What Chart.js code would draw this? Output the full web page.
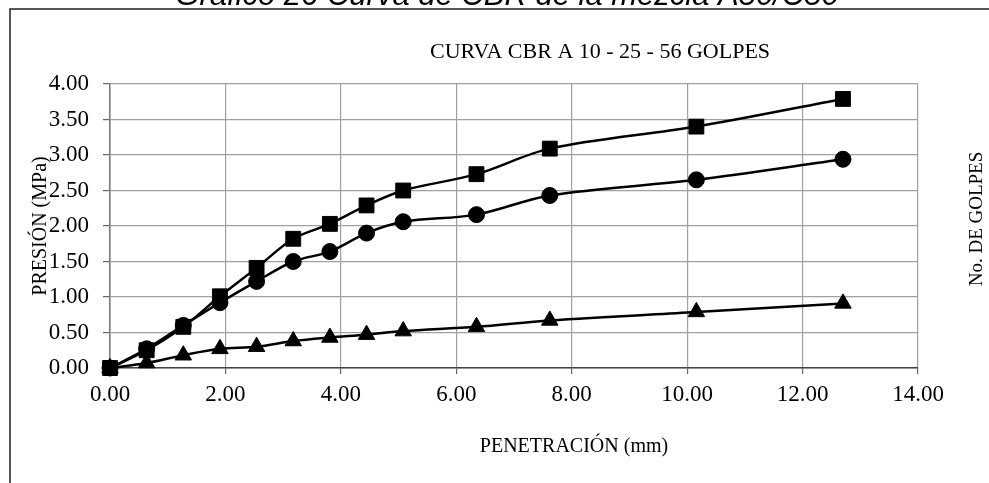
<!DOCTYPE html>
<html>
<head>
<meta charset="utf-8">
<script src="https://cdn.jsdelivr.net/npm/chart.js@4.4.1/dist/chart.umd.min.js"></script>
<style>
  html, body { margin: 0; padding: 0; background: #fff; }
  #wrap { position: relative; width: 989px; height: 483px; }
</style>
</head>
<body>
<div id="wrap"><canvas id="cbr"></canvas></div>
<script>
// Penetración (mm) y presión (MPa) para cada número de golpes
var penetracion = [0, 0.635, 1.27, 1.905, 2.54, 3.175, 3.81, 4.445, 5.08, 6.35, 7.62, 10.16, 12.7];
var golpes56 = [0, 0.25, 0.58, 1.01, 1.41, 1.82, 2.03, 2.29, 2.50, 2.73, 3.09, 3.40, 3.79];
var golpes25 = [0, 0.27, 0.60, 0.92, 1.22, 1.50, 1.64, 1.90, 2.06, 2.16, 2.43, 2.65, 2.94];
var golpes10 = [0, 0.07, 0.18, 0.27, 0.30, 0.38, 0.43, 0.47, 0.52, 0.58, 0.67, 0.79, 0.91];

var tituloGrafico = 'Gráfico 26 Curva de CBR de la mezcla A50/C50';
var tituloCurva = 'CURVA CBR A 10 - 25 - 56 GOLPES';
var tituloX = 'PENETRACIÓN (mm)';
var tituloY = 'PRESIÓN (MPa)';
var tituloDerecha = 'No. DE GOLPES';

var serif = '"Liberation Serif", "Times New Roman", serif';

function puntos(ys) {
    return penetracion.map(function (x, i) { return { x: x, y: ys[i] }; });
}

function serie(nombre, ys, estilo, radio) {
    return {
        label: nombre,
        data: puntos(ys),
        showLine: true,
        borderColor: '#000',
        borderWidth: 2.5,
        backgroundColor: '#000',
        pointStyle: estilo,
        pointRadius: radio,
        pointBorderWidth: 1,
        pointBorderColor: '#000',
        pointBackgroundColor: '#000',
        tension: 0.33
    };
}

// marco exterior, titulo recortado y rotulos de ejes
var textosExtra = {
    id: 'textosExtra',
    afterDraw: function (chart) {
        var ctx = chart.ctx;
        var area = chart.chartArea;
        ctx.save();

        ctx.strokeStyle = '#222';
        ctx.lineWidth = 1.5;
        ctx.beginPath();
        ctx.moveTo(10, 483);
        ctx.lineTo(10, 9);
        ctx.lineTo(989, 9);
        ctx.stroke();

        ctx.fillStyle = '#000';
        ctx.font = 'italic 31px "Liberation Sans", Arial, sans-serif';
        ctx.textAlign = 'center';
        ctx.textBaseline = 'alphabetic';
        ctx.fillText(tituloGrafico, 507, 5);

        ctx.font = '22px ' + serif;
        ctx.textBaseline = 'middle';
        ctx.fillText(tituloCurva, 600, 52);

        ctx.font = '20px ' + serif;
        ctx.fillText(tituloX, 574, 447);

        ctx.save();
        ctx.translate(41, (area.top + area.bottom) / 2);
        ctx.rotate(-Math.PI / 2);
        ctx.fillText(tituloY, 0, 0);
        ctx.restore();

        ctx.save();
        ctx.translate(977, 219);
        ctx.rotate(-Math.PI / 2);
        ctx.font = '19px ' + serif;
        ctx.fillText(tituloDerecha, 0, 0);
        ctx.restore();

        ctx.restore();
    }
};

new Chart(document.getElementById('cbr'), {
    type: 'scatter',
    data: {
        datasets: [
            serie('56 golpes', golpes56, 'rect', 10.5),
            serie('25 golpes', golpes25, 'circle', 8),
            serie('10 golpes', golpes10, 'triangle', 9.5)
        ]
    },
    options: {
        responsive: true,
        maintainAspectRatio: false,
        animation: false,
        clip: false,
        layout: { padding: { left: 0, top: 84, right: 71, bottom: 0 } },
        plugins: {
            legend: { display: false },
            tooltip: { enabled: false }
        },
        scales: {
            x: {
                type: 'linear',
                min: 0,
                max: 14,
                afterFit: function (scale) { scale.height = 115; },
                ticks: {
                    stepSize: 2,
                    color: '#000',
                    font: { family: serif, size: 23 },
                    padding: 7,
                    maxRotation: 0,
                    callback: function (v) { return v.toFixed(2); }
                },
                grid: { color: '#a0a0a0', lineWidth: 1.2, tickLength: 6, tickColor: '#666' },
                border: { color: '#444', width: 1.5 }
            },
            y: {
                min: 0,
                max: 4,
                afterFit: function (scale) { scale.width = 110; },
                ticks: {
                    stepSize: 0.5,
                    color: '#000',
                    font: { family: serif, size: 23 },
                    padding: 14,
                    callback: function (v) { return v.toFixed(2); }
                },
                grid: { color: '#a0a0a0', lineWidth: 1.2, tickLength: 7, tickColor: '#666' },
                border: { color: '#777', width: 1.5 }
            }
        }
    },
    plugins: [textosExtra]
});
</script>
</body>
</html>
